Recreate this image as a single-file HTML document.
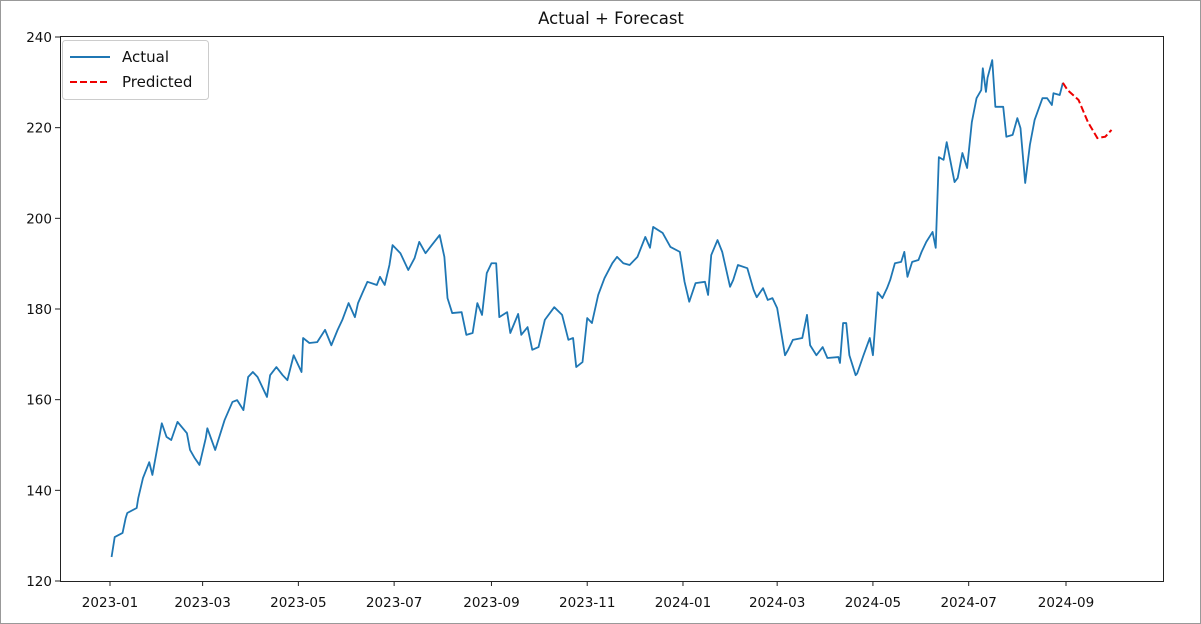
<!DOCTYPE html>
<html><head><meta charset="utf-8"><style>
html,body{margin:0;padding:0;background:#fff}
svg{display:block;font-family:"DejaVu Sans","Liberation Sans",sans-serif}
</style></head><body>
<svg id="chart" width="1201" height="624" viewBox="0 0 1201 624">
<rect x="0.5" y="0.5" width="1200" height="623" fill="#fff" stroke="#999"/>
<text x="611" y="24" font-size="16.5" text-anchor="middle" fill="#111">Actual + Forecast</text>
<g id="grid"></g>
<g id="series"></g>
<rect x="60.5" y="36.5" width="1103" height="545" fill="none" stroke="#222"/>
<g>
<rect x="62.5" y="40.5" width="146" height="59" rx="3" fill="#fff" stroke="#ccc"/>
<line x1="70" y1="57" x2="110" y2="57" stroke="#1f77b4" stroke-width="2"/>
<text x="122" y="62" font-size="15" fill="#111">Actual</text>
<line x1="70" y1="82" x2="110" y2="82" stroke="#e00" stroke-width="2" stroke-dasharray="7,3"/>
<text x="122" y="87" font-size="15" fill="#111">Predicted</text>
</g>
</svg>
<script>
const actualDays=[1,3,8,10,11,17,18,21,25,27,33,36,39,43,49,51,54,57,61,62,67,73,78,81,85,88,91,94,100,102,106,110,113,117,122,123,127,132,137,141,145,148,152,156,158,161,164,170,172,175,178,180,185,190,194,197,201,205,210,213,215,218,224,227,231,234,237,240,243,246,248,253,255,260,262,266,269,273,277,283,288,292,295,297,301,304,307,311,315,320,323,327,331,336,341,344,346,352,357,363,366,369,373,379,381,383,387,390,395,397,400,406,410,412,416,419,422,425,430,432,435,441,444,446,450,454,457,464,465,467,469,471,475,476,480,484,486,489,492,495,497,500,504,506,508,511,515,517,520,524,526,528,531,533,538,540,543,546,549,552,555,556,558,559,562,564,569,571,575,578,580,583,586,589,594,597,600,601,605,607];
const actualValues=[125.3,129.7,130.6,133.9,135,136.1,138.3,142.7,146.2,143.4,154.8,151.8,151.1,155.1,152.6,148.9,147.1,145.6,151.5,153.7,148.9,155.5,159.5,159.9,157.7,165,166.1,165,160.6,165.4,167.2,165.4,164.3,169.8,166.1,173.6,172.5,172.7,175.4,172,175.4,177.6,181.3,178.2,181.3,183.7,186,185.3,187.1,185.3,189.7,194.1,192.3,188.6,191.2,194.8,192.3,194.1,196.3,191.5,182.4,179.1,179.3,174.3,174.7,181.3,178.7,187.9,190.1,190.1,178.2,179.3,174.7,178.9,174.3,176,171,171.6,177.6,180.4,178.7,173.2,173.6,167.2,168.3,178,176.9,183.1,186.8,190.1,191.5,190.1,189.7,191.5,195.9,193.5,198.1,196.8,193.7,192.6,186,181.6,185.7,186,183.1,191.9,195.2,192.6,184.9,186.4,189.7,189,184.2,182.6,184.6,182,182.4,180.2,169.8,171,173.2,173.6,178.7,172,169.8,171.6,169.2,169.4,168.1,176.9,176.9,169.8,165.4,165.8,169.8,173.6,169.8,183.7,182.4,184.6,186.4,190.1,190.4,192.6,187.1,190.4,190.8,192.6,194.8,197,193.5,213.5,212.9,216.8,208,208.9,214.4,211.1,221.2,226.5,228.3,233.1,227.9,231,234.9,224.6,224.6,218,218.4,222.1,219.9,207.8,216.2,221.7,226.5,226.5,225,227.6,227.2,229.9];
const predDays=[607,610,617,623,629,634,638];
const predValues=[229.9,228.3,226.1,221.2,217.7,218,219.5];
const yTicks=[120,140,160,180,200,220,240];
const xTickLabels=["2023-01","2023-03","2023-05","2023-07","2023-09","2023-11","2024-01","2024-03","2024-05","2024-07","2024-09"];
const xTickDays=[0,59,120,181,243,304,365,425,486,547,609];

const NS="http://www.w3.org/2000/svg";
const xs=d=>110+d*1.5698;
const ys=v=>581-(v-120)*(544/120);
const grid=document.getElementById('grid'),series=document.getElementById('series');
function mk(tag,attrs,parent){const e=document.createElementNS(NS,tag);for(const k in attrs)e.setAttribute(k,attrs[k]);parent.appendChild(e);return e;}
yTicks.forEach(v=>{
  const y=ys(v);
  const t=mk('line',{x1:55,x2:60,y1:y,y2:y,stroke:'#222'},grid);
  
  
  const l=mk('text',{x:52,y:y+5,'font-size':13.5,'text-anchor':'end',fill:'#111'},grid);
  l.textContent=v;
  
  
});
xTickDays.forEach((d,i)=>{
  const x=xs(d);
  const t=mk('line',{x1:x,x2:x,y1:581,y2:586,stroke:'#222'},grid);
  
  
  const l=mk('text',{x:x,y:607,'font-size':13.5,'text-anchor':'middle',fill:'#111'},grid);
  l.textContent=xTickLabels[i];
  
  
});
const a=mk('polyline',{points:actualDays.map((d,i)=>xs(d)+','+ys(actualValues[i])).join(' '),fill:'none',stroke:'#1f77b4','stroke-width':1.8,'stroke-linejoin':'round'},series);


const p=mk('polyline',{points:predDays.map((d,i)=>xs(d)+','+ys(predValues[i])).join(' '),fill:'none',stroke:'#e00','stroke-width':2,'stroke-dasharray':'7,3'},series);


</script>
</body></html>
